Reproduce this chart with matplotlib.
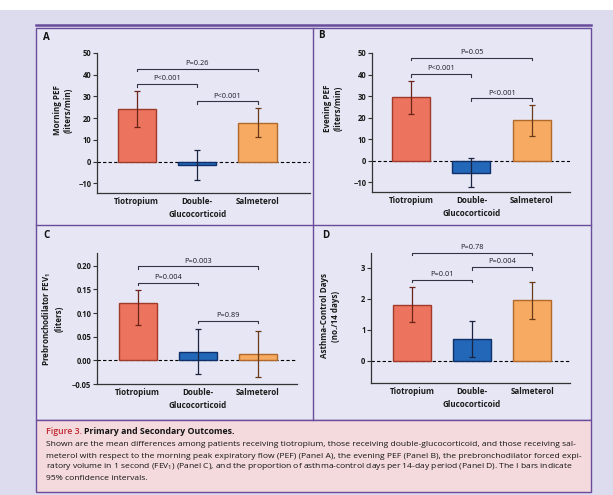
import matplotlib
matplotlib.use("Agg")
import matplotlib.pyplot as plt
from matplotlib.patches import Rectangle
from matplotlib.lines import Line2D

plt.rcParams['font.family'] = ['Open Sans', 'DejaVu Sans']
plt.rcParams['mathtext.default'] = 'regular'

W, H = 613, 495

groups = ["Tiotropium", "Double-\nGlucocorticoid", "Salmeterol"]

morning_pef = [24.0, -1.4, 17.8]
morning_lo = [15.8, -8.5, 11.3]
morning_hi = [32.5, 5.4, 24.5]
morning_p = [(0, 2, 42.8, "P=0.26"), (0, 1, 35.8, "P<0.001"), (1, 2, 27.7, "P<0.001")]

evening_pef = [29.5, -5.7, 19.0]
evening_lo = [21.5, -12.2, 11.6]
evening_hi = [36.8, 1.1, 26.0]
evening_p = [(0, 2, 47.9, "P=0.05"), (0, 1, 40.2, "P<0.001"), (1, 2, 28.9, "P<0.001")]

fev1 = [0.122, 0.018, 0.014]
fev1_lo = [0.074, -0.029, -0.035]
fev1_hi = [0.148, 0.067, 0.062]
fev1_p = [(0, 2, 0.199, "P=0.003"), (0, 1, 0.164, "P=0.004"), (1, 2, 0.084, "P=0.89")]

control_days = [1.82, 0.72, 1.96]
control_lo = [1.25, 0.13, 1.35]
control_hi = [2.39, 1.30, 2.56]
control_p = [(0, 2, 3.49, "P=0.78"), (1, 2, 3.03, "P=0.004"), (0, 1, 2.62, "P=0.01")]

bar_colors = ["#ec735e", "#2267b8", "#f6aa62"]
edge_colors = ["#a23a2a", "#10306a", "#b2692c"]
err_colors = ["#6a2418", "#1a2440", "#6a3a18"]


def box(l, t, r, b):
    return [l / W, 1 - b / H, (r - l) / W, (b - t) / H]


def draw_panel(ax, vals, lo, hi, pvals, ylim, xlim, yticks, ylabels, spine_top):
    ax.set_facecolor("none")
    x = range(len(vals))
    ax.axhline(0, color="black", lw=0.8, ls=(0, (3, 2)), zorder=1)
    ax.bar(x, vals, width=0.63, color=bar_colors, edgecolor=edge_colors,
           linewidth=1.0, zorder=2)
    for i in x:
        ax.errorbar(i, vals[i], yerr=[[vals[i] - lo[i]], [hi[i] - vals[i]]],
                    fmt="none", ecolor=err_colors[i], elinewidth=0.9,
                    capsize=2.5, capthick=0.9, zorder=3)
    ax.set_ylim(*ylim)
    ax.set_xlim(*xlim)
    ax.set_yticks(yticks)
    ax.set_yticklabels(ylabels, fontsize=5.5, fontweight="bold", color="#1a1a1a")
    ax.set_xticks(list(x))
    ax.set_xticklabels(groups, fontsize=5.8, fontweight="bold", color="#1a1a1a",
                       linespacing=1.5)
    ax.tick_params(axis="x", length=0, pad=3)
    ax.tick_params(axis="y", length=3, width=0.8, pad=1, color="#333333")
    for s in ["top", "right"]:
        ax.spines[s].set_visible(False)
    ax.spines["left"].set_bounds(ylim[0], spine_top)
    for s in ["left", "bottom"]:
        ax.spines[s].set_linewidth(0.9)
        ax.spines[s].set_color("#333333")
    drop = (ylim[1] - ylim[0]) * 0.02
    for i, j, y, label in pvals:
        ax.plot([i, i, j, j], [y - drop, y, y, y - drop], color="#333344",
                lw=0.8, clip_on=False, zorder=4)
        ax.text((i + j) / 2, y + drop * 0.6, label, ha="center", va="bottom",
                fontsize=5.3, color="#1a1a2a", clip_on=False)


fig = plt.figure(figsize=(W / 100, H / 100), dpi=100)
fig.patch.set_facecolor("white")

# backgrounds and frame
fig.add_artist(Rectangle((0, 0), 1, 1 - 10 / H, transform=fig.transFigure,
                         facecolor="#dcdcee", edgecolor="none", zorder=0))
fig.add_artist(Rectangle((36 / W, 1 - 420 / H), (591 - 36) / W, (420 - 27.5) / H,
                         transform=fig.transFigure, facecolor="#e6e6f4",
                         edgecolor="#6a4c9c", lw=1.0, zorder=0))
fig.add_artist(Rectangle((36 / W, 1 - 492 / H), (591 - 36) / W, (492 - 420) / H,
                         transform=fig.transFigure, facecolor="#f4dadd",
                         edgecolor="#6a4c9c", lw=1.0, zorder=0))
fig.add_artist(Line2D([36 / W, 591 / W], [1 - 24.5 / H, 1 - 24.5 / H],
                      color="#6a4c9c", lw=1.8))
fig.add_artist(Line2D([313 / W, 313 / W], [1 - 420 / H, 1 - 27.5 / H],
                      color="#6a4c9c", lw=1.0))
fig.add_artist(Line2D([36 / W, 591 / W], [1 - 225 / H, 1 - 225 / H],
                      color="#6a4c9c", lw=1.0))

pef_ticks = [-10, 0, 10, 20, 30, 40, 50]
pef_labels = ["\u221210", "0", "10", "20", "30", "40", "50"]

axA = fig.add_axes(box(97, 53, 310, 193))
draw_panel(axA, morning_pef, morning_lo, morning_hi, morning_p,
           (-14.5, 50), (-0.66, 2.87), pef_ticks, pef_labels, 50)

axB = fig.add_axes(box(372, 53, 570, 192))
draw_panel(axB, evening_pef, evening_lo, evening_hi, evening_p,
           (-14.5, 50), (-0.645, 2.63), pef_ticks, pef_labels, 50)

axC = fig.add_axes(box(97, 253, 297, 384))
draw_panel(axC, fev1, fev1_lo, fev1_hi, fev1_p,
           (-0.05, 0.227), (-0.68, 2.65),
           [-0.05, 0.0, 0.05, 0.10, 0.15, 0.20],
           ["\u22120.05", "0.00", "0.05", "0.10", "0.15", "0.20"], 0.227)

axD = fig.add_axes(box(371, 253, 570, 383))
draw_panel(axD, control_days, control_lo, control_hi, control_p,
           (-0.71, 3.48), (-0.68, 2.63), [0, 1, 2, 3],
           ["0", "1", "2", "3"], 3.48)

# panel letters
for lx, ly, letter in [(43, 38, "A"), (318, 36, "B"), (43, 235, "C"), (322, 235, "D")]:
    fig.text(lx / W, 1 - ly / H, letter, fontsize=7, fontweight="bold",
             ha="left", va="center", color="#111111")

# y-axis labels
for lx, ly, text in [(63, 110, "Morning PEF\n(liters/min)"),
                     (333, 108, "Evening PEF\n(liters/min)"),
                     (52, 319, "Prebronchodilator FEV$_1$\n(liters)"),
                     (330, 316, "Asthma-Control Days\n(no./14 days)")]:
    fig.text(lx / W, 1 - ly / H, text, fontsize=5.8, fontweight="bold",
             rotation=90, ha="center", va="center", linespacing=1.2,
             color="#1a1a1a", multialignment="center")

# caption
fig.text(46 / W, 1 - 431 / H, "Figure 3.", fontsize=6.3, color="#c0262e",
         fontweight="semibold", ha="left", va="center")
fig.text(84.5 / W, 1 - 431 / H, "Primary and Secondary Outcomes.", fontsize=6.3,
         fontweight="bold", color="#141414", ha="left", va="center")
caption_lines = [
    "Shown are the mean differences among patients receiving tiotropium, those receiving double-glucocorticoid, and those receiving sal-",
    "meterol with respect to the morning peak expiratory flow (PEF) (Panel A), the evening PEF (Panel B), the prebronchodilator forced expi-",
    "ratory volume in 1 second (FEV$_1$) (Panel C), and the proportion of asthma-control days per 14-day period (Panel D). The I bars indicate",
    "95% confidence intervals.",
]
for k, line in enumerate(caption_lines):
    fig.text(46 / W, 1 - (445 + k * 11) / H, line, fontsize=6.1,
             color="#141414", ha="left", va="center")

fig.savefig("out.png", dpi=100)
